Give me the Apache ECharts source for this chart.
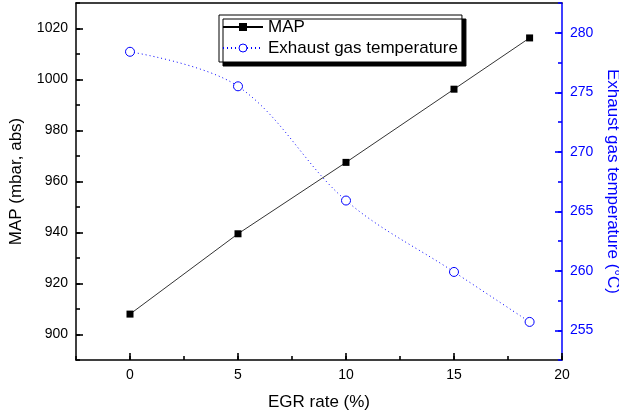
<!DOCTYPE html>
<html>
<head>
<meta charset="utf-8">
<script src="https://cdn.jsdelivr.net/npm/echarts@6/dist/echarts.min.js"></script>
<style>
  html, body { margin: 0; padding: 0; background: #fff; }
  #chart { width: 619px; height: 416px; }
</style>
</head>
<body>
<div id="chart"></div>
<script>
// EGR rate (%) on the x axis
const egrRate = [0, 5, 10, 15, 18.5];
// Manifold absolute pressure (mbar, abs)
const mapValues = [908, 939.5, 967.5, 996.2, 1016.3];
// Exhaust gas temperature (°C)
const exhaustTemp = [278.4, 275.5, 265.9, 259.9, 255.7];

// Tick labels
const xTickLabels = [0, 5, 10, 15, 20];
const mapTickLabels = [900, 920, 940, 960, 980, 1000, 1020];
const tempTickLabels = [255, 260, 265, 270, 275, 280];

const BLUE = '#0000ff';
const FONT = '"Liberation Sans", Arial, sans-serif';
const plain = v => String(v);

const chart = echarts.init(document.getElementById('chart'));

const mapData = egrRate.map((x, i) => [x, mapValues[i]]);
const tempData = egrRate.map((x, i) => [x, exhaustTemp[i]]);

// major ticks: long, labelled; minor ticks: short, drawn by an unlabelled twin axis
function majorTick(values, color) {
  return { show: true, inside: true, length: 7, customValues: values, lineStyle: { color: color, width: 1.6 } };
}
function minorTick(color) {
  return { show: true, inside: true, length: 4, lineStyle: { color: color, width: 1.6 } };
}
const noLabel = { show: false };
const noSplit = { show: false };

chart.setOption({
  animation: false,
  backgroundColor: '#fff',
  grid: {
    left: 76, right: 57, top: 3, bottom: 56,
    outerBoundsMode: 'none', containLabel: false
  },
  legend: {
    left: 219, top: 15,
    orient: 'vertical',
    padding: [2, 4, 4, 3],
    itemWidth: 40, itemHeight: 10, itemGap: 1,
    backgroundColor: '#fff',
    borderColor: '#000', borderWidth: 1,
    shadowColor: '#000', shadowBlur: 0, shadowOffsetX: 4, shadowOffsetY: 4,
    textStyle: { fontFamily: FONT, fontSize: 17, color: '#000', lineHeight: 20 },
    data: [
      { name: 'MAP', itemStyle: { color: '#000' } },
      { name: 'Exhaust gas temperature', itemStyle: { color: '#fff', borderColor: BLUE, borderWidth: 1 } }
    ]
  },
  xAxis: [
    {
      type: 'value', min: -2.5, max: 20, interval: 2.5, position: 'bottom',
      name: 'EGR rate (%)', nameLocation: 'middle', nameGap: 34,
      nameTextStyle: { fontFamily: FONT, fontSize: 17, color: '#000' },
      axisLine: { show: true, onZero: false, lineStyle: { color: '#000', width: 1.5 } },
      axisTick: majorTick(xTickLabels, '#000'),
      axisLabel: { customValues: xTickLabels, formatter: plain, margin: 8, fontFamily: FONT, fontSize: 14, color: '#000' },
      splitLine: noSplit
    },
    {
      type: 'value', min: -2.5, max: 20, interval: 2.5, position: 'bottom',
      axisLine: { show: false, onZero: false },
      axisTick: minorTick('#000'),
      axisLabel: noLabel,
      splitLine: noSplit
    },
    {
      // top frame line
      type: 'value', min: -2.5, max: 20, position: 'top',
      axisLine: { show: true, onZero: false, lineStyle: { color: '#000', width: 1.5 } },
      axisTick: { show: false },
      axisLabel: noLabel,
      splitLine: noSplit
    }
  ],
  yAxis: [
    {
      type: 'value', min: 890, max: 1030, interval: 10, position: 'left',
      name: 'MAP (mbar, abs)', nameLocation: 'middle', nameGap: 51,
      nameTextStyle: { fontFamily: FONT, fontSize: 17, color: '#000' },
      axisLine: { show: true, onZero: false, lineStyle: { color: '#000', width: 1.5 } },
      axisTick: majorTick(mapTickLabels, '#000'),
      axisLabel: { customValues: mapTickLabels, formatter: plain, margin: 8, fontFamily: FONT, fontSize: 14, color: '#000' },
      splitLine: noSplit
    },
    {
      type: 'value', min: 252.5, max: 282.5, interval: 2.5, position: 'right',
      name: 'Exhaust gas temperature (°C)', nameLocation: 'middle', nameGap: 39, nameRotate: -90,
      nameTextStyle: { fontFamily: FONT, fontSize: 17, color: BLUE },
      axisLine: { show: true, onZero: false, lineStyle: { color: BLUE, width: 1.5 } },
      axisTick: majorTick(tempTickLabels, BLUE),
      axisLabel: { customValues: tempTickLabels, formatter: plain, margin: 8, fontFamily: FONT, fontSize: 14, color: BLUE },
      splitLine: noSplit
    },
    {
      type: 'value', min: 890, max: 1030, interval: 10, position: 'left',
      axisLine: { show: false, onZero: false },
      axisTick: minorTick('#000'),
      axisLabel: noLabel,
      splitLine: noSplit
    },
    {
      type: 'value', min: 252.5, max: 282.5, interval: 2.5, position: 'right',
      axisLine: { show: false, onZero: false },
      axisTick: minorTick(BLUE),
      axisLabel: noLabel,
      splitLine: noSplit
    }
  ],
  series: [
    {
      name: 'MAP', type: 'line', xAxisIndex: 0, yAxisIndex: 0,
      data: mapData,
      symbol: 'rect', symbolSize: 7,
      itemStyle: { color: '#000' },
      lineStyle: { color: '#000', width: 0.8 },
      z: 3
    },
    {
      name: 'Exhaust gas temperature', type: 'line', xAxisIndex: 0, yAxisIndex: 1,
      data: tempData,
      smooth: 0.35,
      symbol: 'circle', symbolSize: 9,
      itemStyle: { color: '#fff', borderColor: BLUE, borderWidth: 1 },
      lineStyle: { color: BLUE, width: 1, type: [1, 3] },
      z: 3
    }
  ]
});
</script>
</body>
</html>
